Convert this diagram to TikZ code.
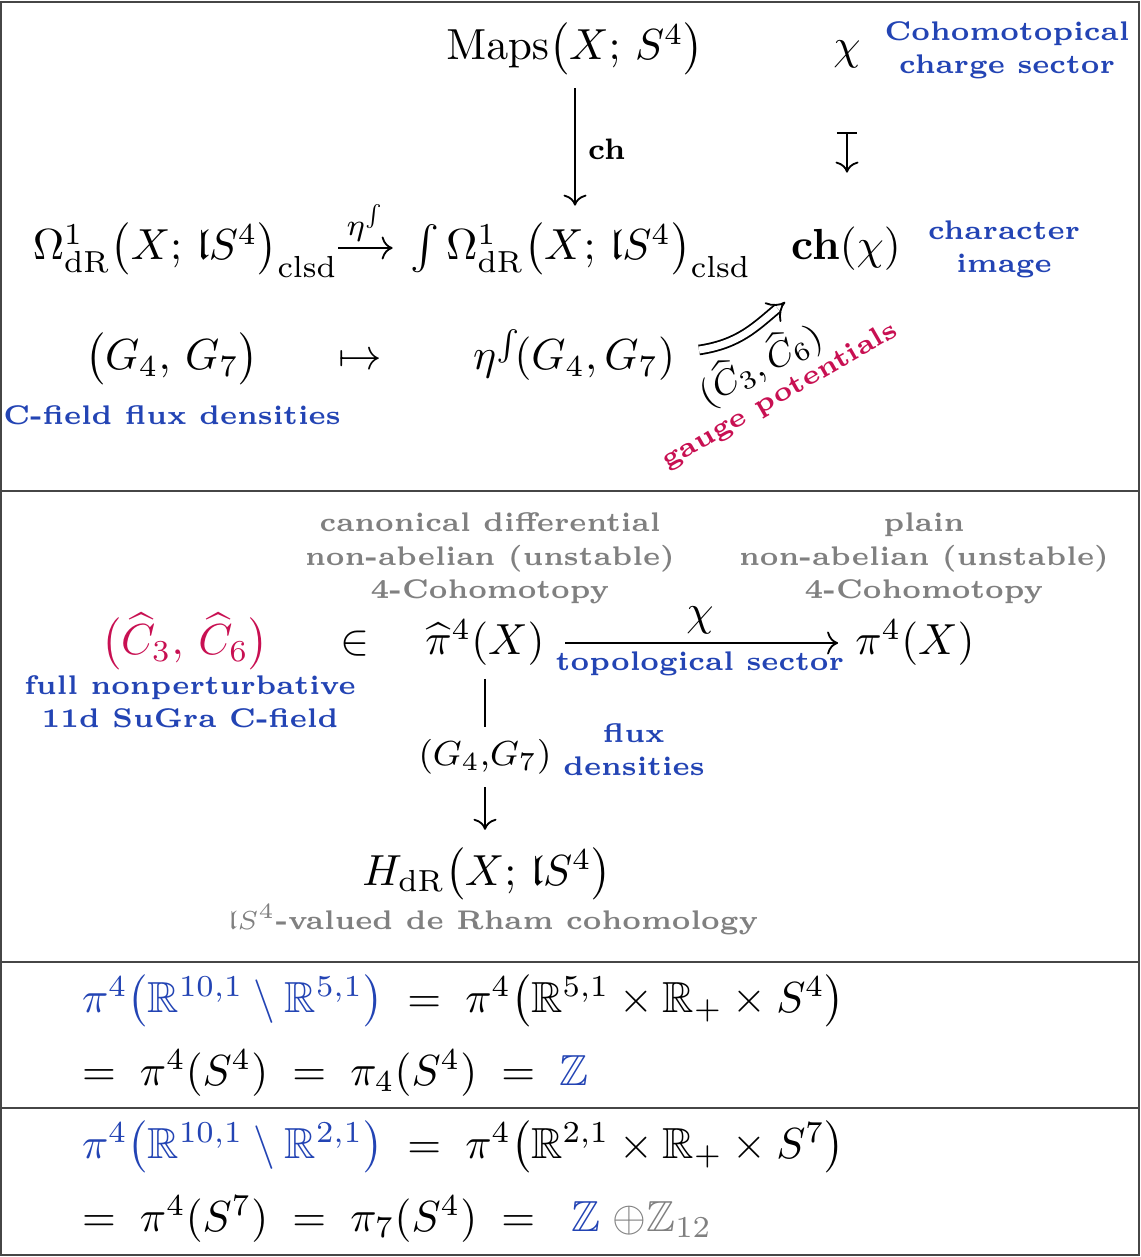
\documentclass[tikz,border=0pt]{standalone}
\usepackage{amsmath,amssymb}
\usetikzlibrary{arrows.meta,calc}
\definecolor{cblue}{RGB}{35,68,180}
\definecolor{ccrim}{RGB}{200,16,82}
\definecolor{cgray}{RGB}{128,128,128}
\definecolor{cframe}{RGB}{70,70,70}
\newcommand{\lS}{\mathfrak{l}S^4}
\begin{document}
\begin{tikzpicture}[x=0.23pt,y=-0.23pt,
  every node/.style={inner sep=0pt, outer sep=0pt},
  lab/.style={font=\fontsize{6.2}{7.8}\selectfont\bfseries, text=cblue, align=center},
  glab/.style={lab, text=cgray},
  frameline/.style={draw=cframe, line width=0.46pt},
  arr/.style={->, line width=0.42pt}]
\useasboundingbox (0,0) rectangle (1141,1257);
% frame
\draw[frameline] (1,2) rectangle (1139,1255);
\draw[frameline] (1,491) -- (1139,491);
\draw[frameline] (1,962) -- (1139,962);
\draw[frameline] (1,1108) -- (1139,1108);

% ---------- box 1
\node[anchor=base] (maps) at (575,60) {$\mathrm{Maps}\big(X;\,S^4\big)$};
\node[anchor=base] (chi) at (847,60) {$\chi$};
\node[lab, anchor=base] (cohlab) at (1007,74) {Cohomotopical\\charge sector};
\node[anchor=base east] (om1) at (338,260) {$\Omega^1_{\mathrm{dR}}\big(X;\,\lS\big)_{\mathrm{clsd}}$};
\node[anchor=base west] (om2) at (410,260) {$\int\Omega^1_{\mathrm{dR}}\big(X;\,\lS\big)_{\mathrm{clsd}}$};
\node[anchor=base] (chchi) at (846,260) {$\mathbf{ch}(\chi)$};
\node[lab, anchor=base] (charlab) at (1004,273) {character\\image};
\node[anchor=base] (g47) at (172,370) {$\big(G_4,\,G_7\big)$};
\node[anchor=base] (mapsto) at (360,370) {$\mapsto$};
\node[anchor=base] (etag) at (574,370) {$\eta^{\int}\!(G_4,G_7)$};
\node[lab, anchor=base] (cflab) at (172,425) {C-field flux densities};

\draw[arr, shorten <=3pt, shorten >=4pt] (maps.south) -- (maps.south |- om2.north)
  node[midway, right=3pt, font=\fontsize{6.8}{8}\selectfont\bfseries] {ch};
\draw[|->, line width=0.42pt, shorten <=14.6pt, shorten >=12.6pt] (chi.south) -- (chi.south |- chchi.north);
\draw[arr, shorten >=4pt] ($(om1.base east)+(0,-12)$) -- ($(om2.base west)+(0,-12)$)
  node[midway, above=1.5pt, xshift=-2pt] {$\scriptstyle\eta^{\int}$};
\draw[double, double distance=1.6pt, line width=0.42pt, -{Implies}]
  ($(etag.base east)+(24,-20)$) .. controls +(40,-6) and +(-30,25) .. ($(chchi.base west)+(-6,42)$);
\node[rotate=28] (chatlab) at (760,364) {\fontsize{8}{9}\selectfont$(\widehat{C}_3,\widehat{C}_6)$};
\node[lab, text=ccrim, rotate=30] (gaugelab) at (780,396) {gauge potentials};

% ---------- box 2
\node[glab, anchor=base] (canlab) at (490,599) {canonical differential\\non-abelian (unstable)\\4-Cohomotopy};
\node[glab, anchor=base] (plainlab) at (924,599) {plain\\non-abelian (unstable)\\4-Cohomotopy};
\node[anchor=base, text=ccrim] (chat) at (185,655) {$\big(\widehat{C}_3,\,\widehat{C}_6\big)$};
\node[anchor=base] (inn) at (355,655) {$\in$};
\node[anchor=base] (pihat) at (485,655) {$\widehat{\pi}^4(X)$};
\node[anchor=base] (pi4) at (915,655) {$\pi^4(X)$};
\draw[arr, shorten <=4.8pt, shorten >=4pt] ($(pihat.base east)+(0,-12)$) -- ($(pi4.base west)+(0,-12)$)
  node[midway, above=2pt] {$\chi$}
  node[midway, below=2pt, lab] {topological sector};
\node[lab, anchor=base] (fulllab) at (190,728) {full nonperturbative\\11d SuGra C-field};
\node[anchor=base] (hdr) at (487,885) {$H_{\mathrm{dR}}\big(X;\,\lS\big)$};
\node[glab, anchor=base] (hdrlab) at (493,929) {$\lS$-valued de Rham cohomology};
\draw[arr, shorten <=3pt, shorten >=4.2pt] (pihat.south) -- (pihat.south |- hdr.north)
  node[midway, fill=white, inner xsep=1pt, inner ysep=3pt] {\fontsize{8}{9}\selectfont$(G_4,\!G_7)$};
\node[lab, anchor=base] (fluxlab) at (634,776) {flux\\densities};

% ---------- box 3
\node[anchor=base west] (eqa) at (82,1012) {$\color{cblue}\pi^4\big(\mathbb{R}^{10,1}\setminus\mathbb{R}^{5,1}\big)\;\color{black}=\;\pi^4\big(\mathbb{R}^{5,1}\times\mathbb{R}_+\times S^4\big)$};
\node[anchor=base west] (eqb) at (82,1085) {$=\;\pi^4(S^4)\;=\;\pi_4(S^4)\;=\;{\color{cblue}\mathbb{Z}}$};
% ---------- box 4
\node[anchor=base west] (eqc) at (82,1158) {$\color{cblue}\pi^4\big(\mathbb{R}^{10,1}\setminus\mathbb{R}^{2,1}\big)\;\color{black}=\;\pi^4\big(\mathbb{R}^{2,1}\times\mathbb{R}_+\times S^7\big)$};
\node[anchor=base west] (eqd) at (82,1231) {$=\;\pi^4(S^7)\;=\;\pi_7(S^4)\;=\;\;{\color{cblue}\mathbb{Z}}\;{\color{cgray}\oplus\mathbb{Z}_{12}}$};
\end{tikzpicture}
\end{document}
